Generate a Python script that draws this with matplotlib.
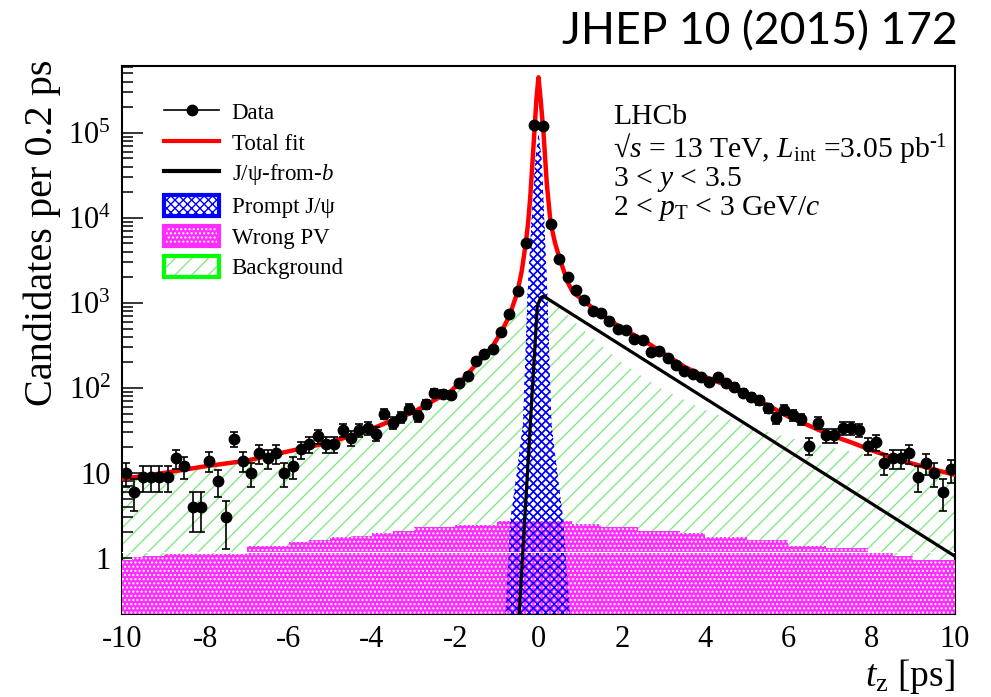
"""
t_z distribution of J/psi candidates with the fit components overlaid.

LHCb, sqrt(s) = 13 TeV, 3 < y < 3.5, 2 < pT < 3 GeV/c (JHEP 10 (2015) 172).
Semua angka dibaca dari gambar referensi, hasil disimpan ke out.png.
"""

import numpy as np
import matplotlib
matplotlib.use("Agg")
import matplotlib.pyplot as plt
from matplotlib.lines import Line2D
from matplotlib.patches import Patch
from matplotlib.legend_handler import HandlerTuple
from matplotlib.ticker import FixedLocator, FixedFormatter, MultipleLocator, NullFormatter

# ==========================================
# DATA
# ==========================================
TZ_MIN, TZ_MAX = -10.0, 10.0
BIN_WIDTH = 0.2                  # ps per bin

# candidates per 0.2 ps, bin by bin from t_z = -9.9 to 9.9
DATA_COUNTS = [
    10, 6, 9, 9, 9, 9, 15, 12, 4, 4,
    14, 8, 3, 25, 14, 10, 17, 15, 17, 10,
    12, 19, 22, 27, 22, 22, 32, 26, 32, 34,
    29, 50, 39, 45, 57, 47, 65, 88, 86, 83,
    115, 138, 208, 253, 288, 458, 734, 1370, 5040, 125000,
    120000, 8500, 3300, 2010, 1400, 1090, 811, 757, 619, 490,
    481, 374, 367, 267, 272, 223, 187, 160, 146, 136,
    119, 136, 114, 104, 87, 79, 72, 58, 44, 55,
    48, 43, 21, 39, 28, 28, 34, 34, 32, 21,
    23, 13, 15, 15, 17, 9, 13, 10, 6, 11,
]

# total fit (red)
FIT_T = [-10, -9, -8, -7, -6, -5, -4, -3.5, -3, -2.5, -2.1, -1.9, -1.7, -1.5,
         -1.3, -1.1, -0.9, -0.7, -0.51, -0.4, -0.3, -0.25, -0.2, -0.1, -0.05,
         0.0, 0.05, 0.12, 0.2, 0.29, 0.4, 0.52, 0.7, 0.83, 1.0, 1.3, 1.5, 2.0,
         2.5, 3.0, 3.5, 4.0, 4.5, 5.0, 5.5, 6.0, 6.5, 7.0, 7.5, 8.0, 8.5, 9.0,
         9.5, 10]
FIT_VALS = [8.5, 10, 12, 14, 18, 23, 33, 42, 52, 72, 92, 115, 145, 190,
            240, 310, 450, 700, 1320, 2400, 5300, 8700, 17000, 100000, 250000,
            450000, 250000, 100000, 25000, 8700, 5000, 3200, 1750, 1320, 1150,
            870, 740, 500, 370, 255, 178, 135, 108, 82, 63, 46, 36, 28, 23,
            18.5, 15.2, 12.8, 11, 9.5]

# J/psi-from-b (black)
FROMB_T = [-0.47, -0.03, 0.05, 0.12, 10.0]
FROMB_VALS = [0.2, 900, 1150, 1200, 1.05]

# prompt J/psi (blue)
PROMPT_T = [-0.8, -0.68, -0.52, -0.37, -0.26, -0.17, -0.08, 0.0, 0.08,
            0.14, 0.21, 0.31, 0.45, 0.6, 0.76]
PROMPT_VALS = [0.2, 2.65, 10, 38, 1320, 8700, 45000, 100000, 45000,
               8700, 1320, 38, 10, 2.65, 0.2]

# wrong PV (magenta histogram)
WPV_EDGES = [-10, -9.77, -9.5, -9.0, -7.0, -6.0, -5.5, -5.0, -4.5, -4.0,
             -3.5, -3.0, -2.0, -1.0, 0.8, 1.5, 2.4, 3.4, 4.0, 5.0, 6.0,
             6.9, 7.9, 8.5, 9.0, 10]
WPV_VALS = [0.95, 1.02, 1.06, 1.11, 1.39, 1.53, 1.63, 1.75, 1.83, 1.95,
            2.06, 2.29, 2.46, 2.74, 2.53, 2.34, 2.08, 1.95, 1.78, 1.63,
            1.38, 1.30, 1.14, 1.05, 0.95]

# background (green hatched)
BKG_T = [-10, -9, -8, -7, -6, -5, -4, -3.5, -3, -2.5, -2, -1.5, -1.0, -0.7,
         -0.5, -0.3, -0.1, 0.1, 0.3, 0.5, 0.8, 1.0, 1.5, 2, 2.5, 3, 4, 5, 6,
         7, 8, 9, 10]
BKG_VALS = [8.5, 10, 12, 14, 18, 23, 33, 42, 50, 72, 100, 185, 330, 600,
            950, 1100, 1200, 1200, 1100, 900, 650, 520, 320, 200, 135, 95,
            55, 36, 26, 20, 16, 12.5, 9.4]

Y_TICKS = [1, 10, 100, 1e3, 1e4, 1e5]
Y_TICK_LABELS = ["1", "10", "$10^{2}$", "$10^{3}$", "$10^{4}$", "$10^{5}$"]
X_TICKS = [-10, -8, -6, -4, -2, 0, 2, 4, 6, 8, 10]
X_TICK_LABELS = ["-10", "-8", "-6", "-4", "-2", "0", "2", "4", "6", "8", "10"]

LEGEND_LABELS = ["Data", "Total fit", "J/\u03c8-from-$b$", "Prompt J/\u03c8",
                 "Wrong PV", "Background"]
INFO_LINES = [
    "LHCb",
    "\u221a$s$ = 13 TeV, $L_{\\rm int}$ =3.05 pb$^{\\text{-1}}$",
    "3 < $y$ < 3.5",
    "2 < $p_{\\rm T}$ < 3 GeV/$c$",
]

# ==========================================
# STYLE
# ==========================================
SERIF = "Liberation Serif"
YMIN, YMAX = 0.22, 6.1e5
FLOOR = 1e-3                     # baseline for filled areas (below the axis)
GREEN = "#86e886"
MAGENTA = "#ff2bff"
BLUE = "#0000ff"

plt.rcParams["font.family"] = SERIF
plt.rcParams["mathtext.fontset"] = "custom"
plt.rcParams["mathtext.rm"] = SERIF
plt.rcParams["mathtext.it"] = SERIF + ":italic"
plt.rcParams["mathtext.bf"] = SERIF + ":bold"
plt.rcParams["hatch.linewidth"] = 1.0


def px(x, y):
    """Pixel position (from top-left) -> figure fraction."""
    return x / 991.0, 1.0 - y / 697.0


def main():
    fig = plt.figure(figsize=(9.91, 6.97), dpi=100)
    ax = fig.add_axes([122 / 991, 83 / 697, 833 / 991, 548 / 697])
    ax.set_yscale("log")

    centres = TZ_MIN + BIN_WIDTH * (np.arange(len(DATA_COUNTS)) + 0.5)
    counts = np.array(DATA_COUNTS, dtype=float)
    errors = np.sqrt(counts)

    # background
    ax.fill_between(BKG_T, BKG_VALS, FLOOR, facecolor="none", edgecolor=GREEN,
                    hatch="//", linewidth=0, zorder=1)

    # prompt J/psi: white base + hatch, hatch redrawn above the wrong-PV
    ax.fill_between(PROMPT_T, PROMPT_VALS, FLOOR, facecolor="white",
                    edgecolor=BLUE, hatch="xxxx", linewidth=0, zorder=2)
    ax.stairs(WPV_VALS, WPV_EDGES, baseline=FLOOR, fill=True,
              facecolor=MAGENTA, edgecolor="white", hatch="....",
              linewidth=0, zorder=3)
    ax.fill_between(PROMPT_T, PROMPT_VALS, FLOOR, facecolor="none",
                    edgecolor=BLUE, hatch="xxxx", linewidth=0, zorder=4)
    ax.axhline(1.17, color="white", lw=0.8, zorder=4.5)

    # curves
    ax.plot(FROMB_T, FROMB_VALS, color="black", lw=2.3, zorder=6)
    ax.plot(FIT_T, FIT_VALS, color="red", lw=3.2, zorder=7)

    # data
    ax.errorbar(centres, counts, yerr=errors, fmt="o", color="black",
                ms=7.5, lw=1.2, capsize=3, capthick=1.2, zorder=10)

    ax.set_xlim(TZ_MIN, TZ_MAX)
    ax.set_ylim(YMIN, YMAX)

    # ticks (ROOT style, inside)
    ax.xaxis.set_major_locator(FixedLocator(X_TICKS))
    ax.xaxis.set_major_formatter(FixedFormatter(X_TICK_LABELS))
    ax.xaxis.set_minor_locator(MultipleLocator(0.5))
    ax.yaxis.set_major_locator(FixedLocator(Y_TICKS))
    ax.yaxis.set_major_formatter(FixedFormatter(Y_TICK_LABELS))
    minor_y = [m * 10.0 ** e for e in range(-1, 6) for m in range(2, 10)]
    ax.yaxis.set_minor_locator(FixedLocator(minor_y))
    ax.yaxis.set_minor_formatter(NullFormatter())
    ax.tick_params(axis="both", which="both", direction="in", width=1.1,
                   labelsize=22, top=False, right=False)
    ax.tick_params(axis="x", which="major", length=11.5, pad=8)
    ax.tick_params(axis="x", which="minor", length=5.8)
    ax.tick_params(axis="y", which="major", length=15, pad=8)
    ax.tick_params(axis="y", which="minor", length=8)
    for spine in ax.spines.values():
        spine.set_linewidth(1.5)

    # legend
    handles = [
        Line2D([], [], color="black", marker="o", ms=7.5, lw=1.2),
        Line2D([], [], color="red", lw=3),
        Line2D([], [], color="black", lw=3),
        (Patch(facecolor="white", edgecolor=BLUE, hatch="xxxx", lw=0),
         Patch(facecolor="none", edgecolor=BLUE, lw=3)),
        (Patch(facecolor=MAGENTA, edgecolor="white", hatch="....", lw=0),
         Patch(facecolor="none", edgecolor=MAGENTA, lw=3)),
        (Patch(facecolor="white", edgecolor=GREEN, hatch="//", lw=0),
         Patch(facecolor="none", edgecolor="#00ff00", lw=3)),
    ]
    ax.legend(handles, LEGEND_LABELS, handler_map={tuple: HandlerTuple(ndivide=1)},
              loc="upper left", bbox_to_anchor=px(164, 101),
              bbox_transform=fig.transFigure, frameon=False,
              prop={"family": SERIF, "size": 16.5}, borderpad=0,
              borderaxespad=0, handlelength=2.4, handleheight=1.0,
              handletextpad=0.55, labelspacing=0.33)

    # info text
    baselines = [124, 157, 186, 215]
    for line, yb in zip(INFO_LINES, baselines):
        fig.text(*px(613, yb), line, fontsize=21.3, ha="left", va="baseline")

    # axis titles
    fig.text(*px(42, 60), "Candidates per 0.2 ps", rotation=90, fontsize=29,
             ha="center", va="top")
    fig.text(*px(955, 676), "$t_{\\rm z}$ [ps]", fontsize=27, ha="right",
             va="center")

    # journal reference
    fig.text(*px(958, 32), "JHEP 10 (2015) 172", family="Lato", fontsize=32,
             ha="right", va="center")

    fig.savefig("out.png", dpi=100)
    plt.close(fig)


if __name__ == "__main__":
    main()
